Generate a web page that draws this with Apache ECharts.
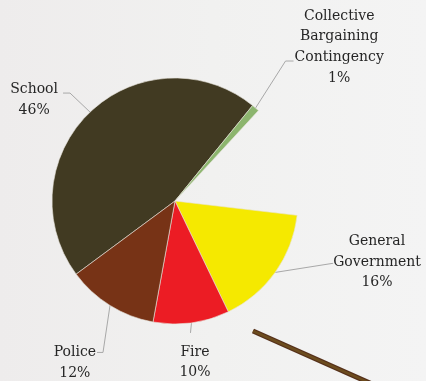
<!DOCTYPE html>
<html>
<head>
<meta charset="utf-8">
<script src="https://cdn.jsdelivr.net/npm/echarts@6/dist/echarts.min.js"></script>
<style>
  html, body { margin: 0; padding: 0; background: #f1f1f1; }
  #chart { width: 426px; height: 381px; }
</style>
</head>
<body>
<div id="chart"></div>
<script>
// Budget shares, clockwise from the School slice.
const categories = ['School', 'Collective\nBargaining\nContingency', 'Not shown', 'General\nGovernment', 'Fire', 'Police'];
const shares = [46, 1, 15, 16, 10, 12];
const sliceColors = ['#413a22', '#8cb56e', 'transparent', '#f5e900', '#ec1c24', '#773316'];
const hiddenSlice = 2;

// Leader-line geometry per slice: offset of the elbow from the slice edge,
// horizontal run after the elbow, and where the text block sits from the line end.
const guides = [
  { elbow: [-20, -19], run: -7, tx: -5, ty: 6.5, align: 'right' },
  { elbow: [30, -47], run: 8, tx: 1, ty: -14, align: 'left' },
  null,
  { elbow: [57, -9], run: 1, tx: 0, ty: -1.5, align: 'left' },
  { elbow: [-1, 10], run: 0, tx: 4.5, ty: 29.5, align: 'center' },
  { elbow: [-7, 47], run: -6, tx: -1, ty: 10.5, align: 'right' }
];

const pieData = categories.map((name, i) => {
  const item = { name: name, value: shares[i], itemStyle: { color: sliceColors[i] } };
  if (i === hiddenSlice) {
    item.label = { show: false };
    item.labelLine = { show: false };
    item.itemStyle.borderWidth = 0;
  }
  return item;
});

const chart = echarts.init(document.getElementById('chart'), null, { renderer: 'canvas' });
chart.setOption({
  backgroundColor: {
    type: 'linear', x: 0, y: 0, x2: 1, y2: 0,
    colorStops: [
      { offset: 0, color: '#eeecec' },
      { offset: 0.5, color: '#f1f1f0' },
      { offset: 1, color: '#f4f4f4' }
    ]
  },
  animation: false,
  graphic: [
    { type: 'line', silent: true, shape: { x1: 253, y1: 331, x2: 372, y2: 384 },
      style: { stroke: '#55301a', lineWidth: 5, lineCap: 'butt' } },
    { type: 'line', silent: true, shape: { x1: 253, y1: 331, x2: 372, y2: 384 },
      style: { stroke: '#6c4c1e', lineWidth: 2.5, lineCap: 'butt' } }
  ],
  series: [{
    type: 'pie',
    center: [175, 201],
    radius: 123,
    startAngle: 216.5,
    clockwise: true,
    avoidLabelOverlap: false,
    emphasis: { disabled: true },
    itemStyle: { borderColor: '#e8e4dc', borderWidth: 0.6 },
    label: {
      show: true,
      position: 'outside',
      formatter: function (p) {
        const lines = p.name.split('\n').map(l => '{t|' + l + '}');
        lines.push('{t|' + p.value + '%}');
        return lines.join('\n');
      },
      rich: {
        t: {
          align: 'center',
          fontFamily: 'DejaVu Serif',
          fontSize: 14,
          lineHeight: 20.7,
          color: '#262626'
        }
      }
    },
    labelLine: {
      show: true,
      lineStyle: { color: '#a8a8a8', width: 1 }
    },
    labelLayout: function (params) {
      const g = guides[params.dataIndex];
      if (!g || !params.labelLinePoints) { return {}; }
      const p0 = params.labelLinePoints[0];
      const p1 = [p0[0] + g.elbow[0], p0[1] + g.elbow[1]];
      const p2 = [p1[0] + g.run, p1[1]];
      return {
        x: p2[0] + g.tx,
        y: p2[1] + g.ty,
        align: g.align,
        verticalAlign: 'middle',
        labelLinePoints: [p0, p1, p2]
      };
    },
    data: pieData
  }]
});
</script>
</body>
</html>
